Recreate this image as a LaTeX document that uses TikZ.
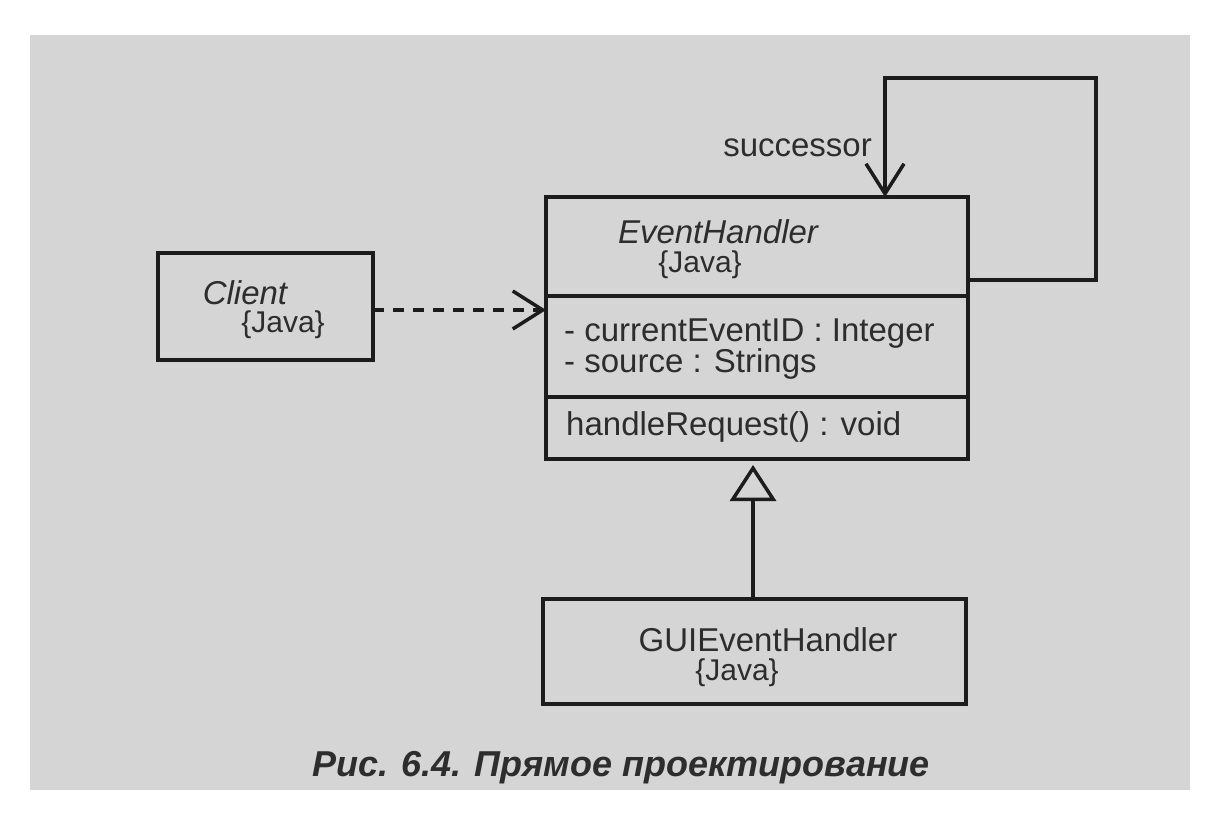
\documentclass[tikz,border=0pt]{standalone}
\usepackage{fontspec}
\setmainfont{Liberation Sans}
\usetikzlibrary{arrows.meta}
\definecolor{bgpaper}{RGB}{213,213,213}
\definecolor{ink}{RGB}{28,28,28}
\definecolor{txt}{RGB}{45,45,45}
\tikzset{
  classbox/.style={draw=ink, line width=4pt, inner sep=0pt, outer sep=0pt},
  lbl/.style={text=txt, inner sep=0pt, font=\fontsize{33}{38}\selectfont},
  tagv/.style={text=txt, inner sep=0pt, font=\fontsize{30}{34}\selectfont},
  conn/.style={draw=ink, line width=3.5pt},
  openv/.style={-{Straight Barb[length=30pt,width=38pt,line width=3.5pt]}},
  gentri/.style={-{Triangle[open,length=36pt,width=46pt,line width=3.5pt,fill=bgpaper]}},
}
\begin{document}
\begin{tikzpicture}[x=1pt,y=-1pt]
\useasboundingbox (0,0) rectangle (1225,816);
\fill[white] (0,0) rectangle (1225,816);
\fill[bgpaper] (30,35) rectangle (1190,790);

% boxes
\node[classbox, minimum width=215pt, minimum height=107pt] (client) at (265.5,306.5) {};
\node[classbox, minimum width=422pt, minimum height=99pt] (eh1) at (757,246.5) {};
\node[classbox, minimum width=422pt, minimum height=101pt] (eh2) at (757,346.5) {};
\node[classbox, minimum width=422pt, minimum height=62pt] (eh3) at (757,428) {};
\node[classbox, minimum width=423pt, minimum height=105pt] (gui) at (754.5,651.5) {};

% texts
\node[lbl, font=\fontsize{33}{38}\selectfont\itshape] (clientname) at (245,293) {Client};
\node[tagv] (clientjava) at (283,325) {\{Java\}};
\node[lbl, font=\fontsize{33}{38}\selectfont\itshape] (ehname) at (718,232) {EventHandler};
\node[tagv] (ehjava) at (700,265) {\{Java\}};
\node[lbl, anchor=west] (attr1) at (564,334) {- currentEventID : Integer};
\node[lbl, anchor=west] (attr2) at (564,364) {- source : Strings};
\node[lbl, anchor=west] (meth) at (566,427) {handleRequest() : void};
\node[lbl] (guiname) at (768,640) {GUIEventHandler};
\node[tagv] (guijava) at (737,673) {\{Java\}};
\node[lbl, anchor=east] (succ) at (872,148) {successor};
\node[text=txt, inner sep=0pt, font=\fontsize{36}{42}\selectfont\bfseries\itshape] (caption) at (621,768) {Рис. 6.4. Прямое проектирование};

% connectors
\coordinate (dashY) at (0,310);
\draw[conn, openv, dash pattern=on 11pt off 9pt] (client.east |- dashY) -- (eh2.west |- dashY);
\coordinate (loopA) at (1096,280);
\coordinate (loopB) at (885,78);
\draw[conn, openv] (loopA -| eh1.east) -- (loopA) |- (loopB) -- (loopB |- eh1.north);
\draw[conn, gentri, shorten >=6pt] (gui.north -| 753,0) -- (eh3.south -| 753,0);
\end{tikzpicture}
\end{document}
